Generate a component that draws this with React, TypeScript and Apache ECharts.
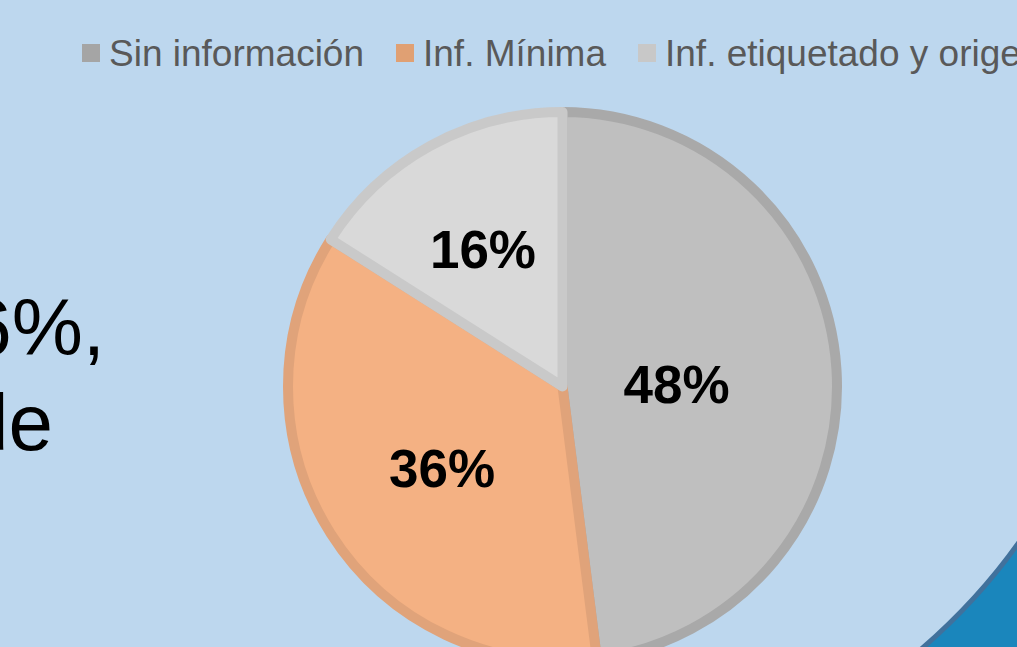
import React, { useEffect, useRef } from "react";
import * as echarts from "echarts";

const categories = ["Sin información", "Inf. Mínima", "Inf. etiquetado y origen"];
const values = [48, 36, 16];
const fillColors = ["#BFBFBF", "#F4B183", "#D9D9D9"];
const edgeColors = ["#A9A9A9", "#E0A37A", "#C9C9C9"];
const legendColors = ["#A5A5A5", "#E0A073", "#C8C8C8"];
const sideLines = ["16%,", "de"];
// label nudges (px) relative to the library's inside-label position
const labelNudge = [
  [-26, 7],
  [-2, 7],
  [-12, -14],
];

const FONT = "'Liberation Sans', Arial, Helvetica, sans-serif";

export default function App() {
  const ref = useRef<HTMLDivElement>(null);
  useEffect(() => {
    if (!ref.current) return;
    const chart = echarts.init(ref.current, undefined, { renderer: "svg" });
    chart.setOption({
      animation: false,
      backgroundColor: "#1A86BC",
      graphic: [
        {
          type: "ellipse",
          silent: true,
          z: -10,
          shape: { cx: 400, cy: 250, rx: 715, ry: 583 },
          style: { fill: "#BDD7EE", stroke: "#41719C", lineWidth: 5 },
        },
        {
          type: "text",
          z: 10,
          style: {
            text: sideLines[0],
            x: 105,
            y: 327,
            align: "right",
            verticalAlign: "middle",
            font: `80px ${FONT}`,
            fill: "#000000",
          },
        },
        {
          type: "text",
          z: 10,
          style: {
            text: sideLines[1],
            x: 53,
            y: 422,
            align: "right",
            verticalAlign: "middle",
            font: `80px ${FONT}`,
            fill: "#000000",
          },
        },
      ],
      legend: {
        left: 82,
        top: 33,
        width: 2000,
        padding: 0,
        orient: "horizontal",
        itemWidth: 18,
        itemHeight: 18,
        itemGap: 32,
        selectedMode: false,
        icon: "rect",
        itemStyle: { borderWidth: 0 },
        textStyle: {
          fontFamily: FONT,
          fontSize: 37,
          color: "#595959",
          padding: [0, 0, 0, 4],
          lineHeight: 40,
        },
        data: categories.map((c, i) => ({
          name: c,
          itemStyle: { color: legendColors[i], borderWidth: 0 },
        })),
      },
      series: [
        {
          type: "pie",
          center: [562.5, 386.5],
          radius: 274.5,
          startAngle: 90,
          clockwise: true,
          avoidLabelOverlap: false,
          label: {
            show: true,
            position: "inside",
            formatter: (p: any) => `${p.value}%`,
            fontFamily: FONT,
            fontSize: 53,
            fontWeight: "bold",
            color: "#000000",
          },
          labelLine: { show: false },
          labelLayout: (p: any) => ({
            dx: labelNudge[p.dataIndex][0],
            dy: labelNudge[p.dataIndex][1],
          }),
          emphasis: { disabled: true },
          data: categories.map((c, i) => ({
            name: c,
            value: values[i],
            itemStyle: {
              color: fillColors[i],
              borderColor: edgeColors[i],
              borderWidth: 10,
            },
          })),
        },
      ],
    });
    return () => chart.dispose();
  }, []);
  return (
    <div
      ref={ref}
      style={{ position: "fixed", left: 0, top: 0, width: 1017, height: 647 }}
    />
  );
}
